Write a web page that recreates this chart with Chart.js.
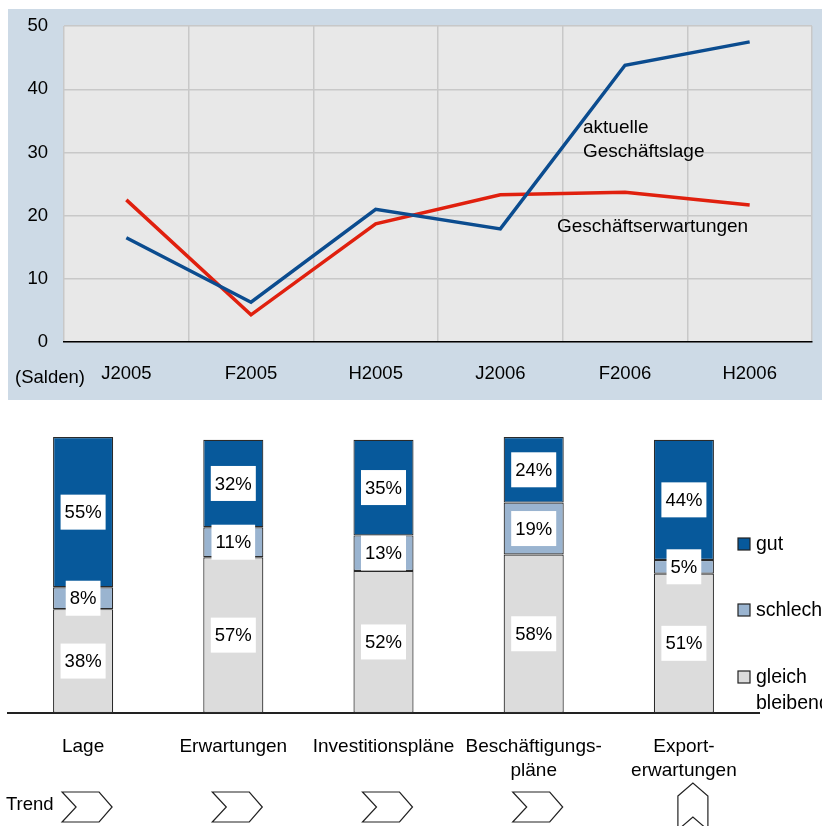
<!DOCTYPE html>
<html>
<head>
<meta charset="utf-8">
<script src="https://cdn.jsdelivr.net/npm/chart.js@4"></script>
<style>
  body { margin: 0; background: #fff; width: 822px; height: 826px; overflow: hidden; position: relative; }
  #topWrap { position: absolute; left: 8px; top: 9px; width: 814px; height: 391px; background: #CDDAE6; }
  #lineChart { position: absolute; left: 0; top: -10px; }
  #bottomWrap { position: absolute; left: 0; top: 420px; width: 822px; height: 406px; }
</style>
</head>
<body>
<div id="topWrap"><canvas id="lineChart" width="814" height="401"></canvas></div>
<div id="bottomWrap"><canvas id="barChart" width="822" height="406"></canvas></div>
<script>
// Salden (Linien)
const periods = ["J2005", "F2005", "H2005", "J2006", "F2006", "H2006"];
const aktuelleLage = [16.5, 6.3, 21.0, 17.9, 43.8, 47.5];
const erwartungen = [22.5, 4.3, 18.7, 23.3, 23.7, 21.7];
const yTicks = [0, 10, 20, 30, 40, 50];

// Anteile (Säulen)
const categories = ["Lage", "Erwartungen", "Investitionspläne", ["Beschäftigungs-", "pläne"], ["Export-", "erwartungen"]];
const gut = [55, 32, 35, 24, 44];
const schlecht = [8, 11, 13, 19, 5];
const gleich = [38, 57, 52, 58, 51];
const trend = ["right", "right", "right", "right", "up"];

Chart.defaults.font.family = "'Liberation Sans', Arial, sans-serif";
Chart.defaults.color = "#000";

const fontPx = 18.5;

// Hintergrund und Beschriftungen im Liniendiagramm (Canvas liegt 10px über dem Rahmen)
const lineDeco = {
    id: "lineDeco",
    beforeDraw(chart) {
        const { ctx, chartArea } = chart;
        ctx.save();
        ctx.fillStyle = "#E8E8E8";
        ctx.fillRect(chartArea.left, chartArea.top, chartArea.right - chartArea.left, chartArea.bottom - chartArea.top);
        ctx.restore();
    },
    afterDraw(chart) {
        const { ctx } = chart;
        ctx.save();
        ctx.fillStyle = "#000";
        ctx.textBaseline = "middle";
        ctx.textAlign = "left";
        ctx.font = fontPx + "px 'Liberation Sans', Arial, sans-serif";
        ctx.fillText("(Salden)", 7, 379);
        ctx.font = "19px 'Liberation Sans', Arial, sans-serif";
        ctx.fillText("aktuelle", 575, 129);
        ctx.fillText("Geschäftslage", 575, 153);
        ctx.fillText("Geschäftserwartungen", 549, 228);
        ctx.restore();
    }
};

new Chart(document.getElementById("lineChart").getContext("2d"), {
    type: "line",
    data: {
        labels: periods,
        datasets: [
            { label: "aktuelle Geschäftslage", data: aktuelleLage, borderColor: "#0B4C8F", borderWidth: 3.5, pointRadius: 0, tension: 0 },
            { label: "Geschäftserwartungen", data: erwartungen, borderColor: "#E0200E", borderWidth: 3.5, pointRadius: 0, tension: 0 }
        ]
    },
    options: {
        responsive: false,
        animation: false,
        layout: { padding: { left: 0, right: 10, top: 0, bottom: 0 } },
        plugins: { legend: { display: false }, tooltip: { enabled: false } },
        scales: {
            x: {
                offset: true,
                grid: { offset: true, color: "#C8C8C8", lineWidth: 1.5, drawTicks: false },
                border: { color: "#000", width: 1.5 },
                ticks: { font: { size: fontPx }, padding: 21 },
                afterFit(s) { s.height = 58; }
            },
            y: {
                min: yTicks[0],
                max: yTicks[yTicks.length - 1],
                afterBuildTicks(s) { s.ticks = yTicks.map(v => ({ value: v })); },
                grid: { color: "#C8C8C8", lineWidth: 1.5, drawTicks: false },
                border: { display: false },
                ticks: { font: { size: fontPx }, padding: 16 },
                afterFit(s) { s.width = 56; }
            }
        }
    },
    plugins: [lineDeco]
});

// Prozentwerte, Legende und Trendpfeile im Säulendiagramm
const barDeco = {
    id: "barDeco",
    afterDatasetsDraw(chart) {
        const { ctx } = chart;
        ctx.save();
        ctx.font = fontPx + "px 'Liberation Sans', Arial, sans-serif";
        ctx.textAlign = "center";
        ctx.textBaseline = "middle";
        chart.data.datasets.forEach((ds, di) => {
            chart.getDatasetMeta(di).data.forEach((el, i) => {
                const txt = ds.data[i] + "%";
                const cy = (el.y + el.base) / 2;
                const w = ctx.measureText(txt).width + 8;
                ctx.fillStyle = "#fff";
                ctx.fillRect(el.x - w / 2, cy - 17.5, w, 35);
                ctx.fillStyle = "#000";
                ctx.fillText(txt, el.x, cy + 1);
            });
        });
        ctx.restore();
    },
    afterDraw(chart) {
        const { ctx } = chart;
        const xs = chart.scales.x;
        ctx.save();
        ctx.textBaseline = "middle";
        ctx.textAlign = "left";

        // Legende
        ctx.font = "19.5px 'Liberation Sans', Arial, sans-serif";
        const items = [
            { ds: 2, lines: ["gut"], y: 124 },
            { ds: 1, lines: ["schlecht"], y: 190 },
            { ds: 0, lines: ["gleich", "bleibend"], y: 257 }
        ];
        items.forEach(it => {
            ctx.fillStyle = chart.data.datasets[it.ds].backgroundColor;
            ctx.fillRect(738, it.y - 6, 12, 12);
            ctx.strokeStyle = "#222";
            ctx.lineWidth = 1.2;
            ctx.strokeRect(738, it.y - 6, 12, 12);
            ctx.fillStyle = "#000";
            it.lines.forEach((l, k) => ctx.fillText(l, 756, it.y + 1 + k * 26));
        });

        // Trend
        ctx.font = fontPx + "px 'Liberation Sans', Arial, sans-serif";
        ctx.fillText("Trend", 6, 385);
        ctx.strokeStyle = "#222";
        ctx.lineWidth = 1.2;
        ctx.fillStyle = "#fff";
        trend.forEach((t, i) => {
            const cx = xs.getPixelForValue(i);
            ctx.beginPath();
            if (t === "right") {
                ctx.moveTo(cx - 21, 372);
                ctx.lineTo(cx + 16, 372);
                ctx.lineTo(cx + 29, 387);
                ctx.lineTo(cx + 16, 402);
                ctx.lineTo(cx - 21, 402);
                ctx.lineTo(cx - 7, 387);
            } else {
                ctx.moveTo(cx - 6, 376);
                ctx.lineTo(cx + 9, 363);
                ctx.lineTo(cx + 24, 376);
                ctx.lineTo(cx + 24, 410);
                ctx.lineTo(cx + 9, 397);
                ctx.lineTo(cx - 6, 410);
            }
            ctx.closePath();
            ctx.fill();
            ctx.stroke();
        });
        ctx.restore();
    }
};

const barStyle = { borderColor: "#2A2A2A", borderWidth: 1.2, borderSkipped: false, barPercentage: 0.4, categoryPercentage: 1 };

new Chart(document.getElementById("barChart").getContext("2d"), {
    type: "bar",
    data: {
        labels: categories,
        datasets: [
            { label: "gleich bleibend", data: gleich, backgroundColor: "#DCDCDC", ...barStyle },
            { label: "schlecht", data: schlecht, backgroundColor: "#9AB4D0", ...barStyle },
            { label: "gut", data: gut, backgroundColor: "#07599B", ...barStyle }
        ]
    },
    options: {
        responsive: false,
        animation: false,
        layout: { padding: { left: 8, right: 63, top: 17, bottom: 0 } },
        plugins: { legend: { display: false }, tooltip: { enabled: false } },
        scales: {
            x: {
                stacked: true,
                grid: { display: false, drawTicks: false },
                border: { color: "#222", width: 2 },
                ticks: { font: { size: 19, lineHeight: 1.25 }, padding: 22, maxRotation: 0, autoSkip: false },
                afterFit(s) { s.height = 113; }
            },
            y: {
                stacked: true,
                display: false,
                min: 0,
                max: 101
            }
        }
    },
    plugins: [barDeco]
});
</script>
</body>
</html>
